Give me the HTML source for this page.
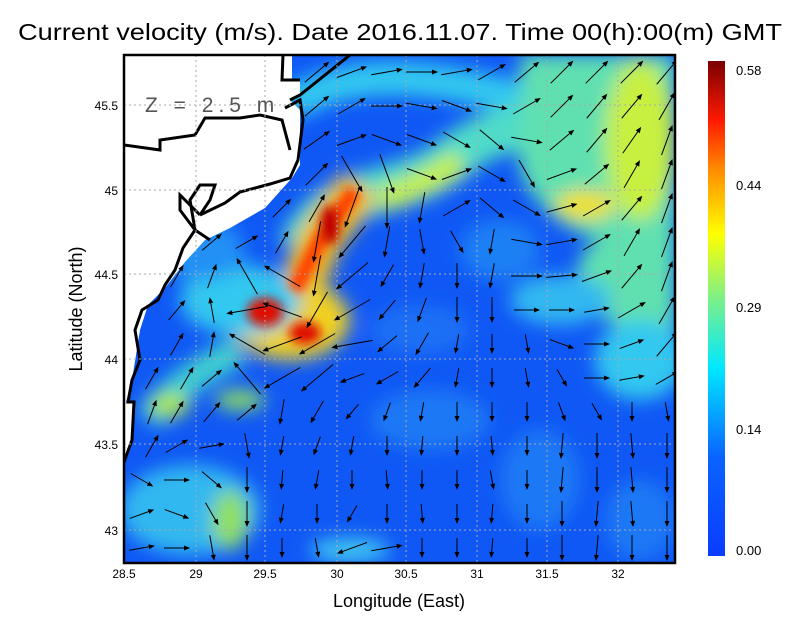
<!DOCTYPE html>
<html><head><meta charset="utf-8"><style>
html,body{margin:0;padding:0;background:#fff;}
svg{display:block;font-family:"Liberation Sans",sans-serif;}
</style></head><body>
<svg width="800" height="618" viewBox="0 0 800 618" xmlns="http://www.w3.org/2000/svg" xmlns:xlink="http://www.w3.org/1999/xlink">
<defs>
<clipPath id="pc"><rect x="124" y="55" width="551" height="508"/></clipPath>
<filter id="bl" x="-20%" y="-20%" width="140%" height="140%"><feGaussianBlur stdDeviation="9"/></filter>
<filter id="bl2" x="-20%" y="-20%" width="140%" height="140%"><feGaussianBlur stdDeviation="5"/></filter>
<linearGradient id="cb" x1="0" y1="1" x2="0" y2="0">
<stop offset="0" stop-color="#0a3cff"/>
<stop offset="0.2" stop-color="#0a64ff"/>
<stop offset="0.38" stop-color="#00e8ff"/>
<stop offset="0.52" stop-color="#7df088"/>
<stop offset="0.65" stop-color="#ffff00"/>
<stop offset="0.78" stop-color="#ff8c00"/>
<stop offset="0.88" stop-color="#ff1a00"/>
<stop offset="1" stop-color="#7a0000"/>
</linearGradient>
<g id="s"><line x1="-10" y1="0" x2="8" y2="0" stroke="#000" stroke-width="1"/><path d="M10,0 L4,-2.5 L4,2.5z"/></g>
<g id="m"><line x1="-13" y1="0" x2="11" y2="0" stroke="#000" stroke-width="1"/><path d="M13,0 L7,-2.5 L7,2.5z"/></g>
<g id="b"><line x1="-16" y1="0" x2="14" y2="0" stroke="#000" stroke-width="1"/><path d="M16,0 L10,-2.5 L10,2.5z"/></g>
<g id="c"><line x1="-21" y1="0" x2="19" y2="0" stroke="#000" stroke-width="1"/><path d="M21,0 L15,-2.5 L15,2.5z"/></g>
</defs>
<text x="400" y="40" text-anchor="middle" font-size="23" textLength="764" lengthAdjust="spacingAndGlyphs">Current velocity (m/s). Date 2016.11.07. Time 00(h):00(m) GMT</text>
<g clip-path="url(#pc)">
<rect x="124" y="55" width="551" height="508" fill="#1058f5"/>
<g filter="url(#bl)">
<path d="M290,105 C360,60 460,80 560,110" stroke="#30c8f0" stroke-width="34" fill="none"/>
<path d="M300,250 C330,180 400,200 450,160 S540,120 600,150" stroke="#50dcc8" stroke-width="46" fill="none"/>
<path d="M380,200 C410,190 440,175 460,160" stroke="#c8f040" stroke-width="24" fill="none"/>
<path d="M520,55 L675,55 L675,340 L620,330 C580,300 560,260 600,240 C560,230 530,200 520,170 Z" fill="#60e0b0"/>
<ellipse cx="640" cy="140" rx="35" ry="80" fill="#c8f040"/>
<ellipse cx="585" cy="205" rx="30" ry="15" fill="#f0e020"/>
<ellipse cx="640" cy="360" rx="45" ry="40" fill="#30c8f0"/>
<ellipse cx="560" cy="300" rx="50" ry="25" fill="#30b8f0"/>
<ellipse cx="500" cy="250" rx="40" ry="30" fill="#1a80f5"/>
<path d="M360,185 L320,240 L300,290" stroke="#f0c020" stroke-width="44" fill="none"/>
<ellipse cx="290" cy="320" rx="60" ry="40" fill="#f0d020"/>
<ellipse cx="240" cy="300" rx="60" ry="35" fill="#30c8f0"/>
<ellipse cx="200" cy="250" rx="45" ry="30" fill="#2090f5"/>
<path d="M150,420 C170,390 200,370 240,350" stroke="#40d0d0" stroke-width="30" fill="none"/>
<ellipse cx="170" cy="405" rx="20" ry="12" fill="#b0e840"/>
<ellipse cx="240" cy="400" rx="25" ry="10" fill="#90e060"/>
<ellipse cx="190" cy="510" rx="70" ry="45" fill="#30b8f0"/>
<ellipse cx="230" cy="520" rx="18" ry="30" fill="#90e060"/>
<ellipse cx="350" cy="550" rx="40" ry="12" fill="#40c8f0"/>
<ellipse cx="430" cy="420" rx="60" ry="30" fill="#1a78f5"/>
<ellipse cx="540" cy="480" rx="40" ry="50" fill="#1a78f5"/>
<ellipse cx="640" cy="520" rx="35" ry="40" fill="#1a78f5"/>
<ellipse cx="420" cy="330" rx="50" ry="25" fill="#1a70f5"/>
</g>
<g filter="url(#bl2)">
<path d="M355,190 L320,240 L295,290" stroke="#ff4000" stroke-width="16" fill="none"/>
<ellipse cx="265" cy="312" rx="18" ry="14" fill="#e01000"/>
<ellipse cx="305" cy="333" rx="16" ry="11" fill="#e01000"/>
<ellipse cx="330" cy="225" rx="10" ry="20" fill="#c00000"/>
</g>
<path d="M124,55 L292,55 L292,80 L300,80 L300,95 L290,100 L300,110 L300,165 L292,178 L265,208 L230,228 L205,240 L185,262 L165,288 L148,305 L140,330 L132,380 L126,402 L124,402 Z" fill="#fff"/>
<path d="M124,402 L134,402 L132,440 L124,462 Z" fill="#fff"/>
<path d="M350,55 L300,95 L290,100" stroke="#000" stroke-width="3" fill="none"/>
<path d="M283,55 L282,80 L300,80" stroke="#000" stroke-width="3" fill="none"/>
<path d="M285,108 L300,100 L303,120 L298,160 L290,178 L270,184 L240,192 L225,203 L200,215" stroke="#000" stroke-width="3" fill="none"/>
<path d="M124,145 L160,150 L160,140 L195,135 L205,118 L240,118 L260,115 L282,120 L290,150" stroke="#000" stroke-width="3" fill="none"/>
<path d="M200,215 L180,195 L180,210 L195,230 L183,248 L175,270 L165,285 L158,300 L142,310 L135,330 L140,360 L132,380 L128,402 L134,402 L132,440 L124,462" stroke="#000" stroke-width="3" fill="none"/>
<path d="M200,215 L210,200 L215,185 L200,185 L190,200 L195,230 L210,240" stroke="#000" stroke-width="3" fill="none"/>
<g stroke="#aaa" stroke-width="1" stroke-dasharray="2,3">
<line x1="196" y1="55" x2="196" y2="563"/><line x1="265" y1="55" x2="265" y2="563"/><line x1="337" y1="55" x2="337" y2="563"/><line x1="406" y1="55" x2="406" y2="563"/><line x1="477" y1="55" x2="477" y2="563"/><line x1="547" y1="55" x2="547" y2="563"/><line x1="618" y1="55" x2="618" y2="563"/>
<line x1="124" y1="105" x2="675" y2="105"/><line x1="124" y1="190" x2="675" y2="190"/><line x1="124" y1="274" x2="675" y2="274"/><line x1="124" y1="359" x2="675" y2="359"/><line x1="124" y1="444" x2="675" y2="444"/><line x1="124" y1="530" x2="675" y2="530"/>
</g>
<text x="145" y="112" font-size="21" fill="#555" letter-spacing="5">Z = 2.5 m</text>
<g>
<use href="#b" transform="translate(317,72)rotate(-40)"/><use href="#b" transform="translate(352,72)rotate(-20)"/><use href="#b" transform="translate(387,72)rotate(-10)"/><use href="#b" transform="translate(422,72)rotate(0)"/><use href="#b" transform="translate(457,72)rotate(-10)"/><use href="#b" transform="translate(492,72)rotate(-30)"/><use href="#b" transform="translate(527,72)rotate(-40)"/><use href="#b" transform="translate(562,72)rotate(-45)"/><use href="#b" transform="translate(597,72)rotate(-45)"/><use href="#b" transform="translate(632,72)rotate(-45)"/><use href="#b" transform="translate(667,72)rotate(-50)"/>
<use href="#b" transform="translate(317,106)rotate(-40)"/><use href="#b" transform="translate(352,106)rotate(-30)"/><use href="#b" transform="translate(387,106)rotate(0)"/><use href="#b" transform="translate(422,106)rotate(10)"/><use href="#b" transform="translate(457,106)rotate(20)"/><use href="#b" transform="translate(492,106)rotate(10)"/><use href="#b" transform="translate(527,106)rotate(-30)"/><use href="#b" transform="translate(562,106)rotate(-45)"/><use href="#b" transform="translate(597,106)rotate(-50)"/><use href="#b" transform="translate(632,106)rotate(-50)"/><use href="#b" transform="translate(667,106)rotate(-60)"/>
<use href="#b" transform="translate(317,140)rotate(-35)"/><use href="#b" transform="translate(352,140)rotate(-20)"/><use href="#b" transform="translate(387,140)rotate(20)"/><use href="#b" transform="translate(422,140)rotate(20)"/><use href="#b" transform="translate(457,140)rotate(30)"/><use href="#b" transform="translate(492,140)rotate(40)"/><use href="#b" transform="translate(527,140)rotate(10)"/><use href="#b" transform="translate(562,140)rotate(-40)"/><use href="#b" transform="translate(597,140)rotate(-50)"/><use href="#b" transform="translate(632,140)rotate(-55)"/><use href="#b" transform="translate(667,140)rotate(-70)"/>
<use href="#b" transform="translate(317,174)rotate(-45)"/><use href="#c" transform="translate(352,174)rotate(60)"/><use href="#c" transform="translate(387,174)rotate(70)"/><use href="#b" transform="translate(422,174)rotate(20)"/><use href="#b" transform="translate(457,174)rotate(-20)"/><use href="#b" transform="translate(492,174)rotate(30)"/><use href="#b" transform="translate(527,174)rotate(60)"/><use href="#b" transform="translate(562,174)rotate(-20)"/><use href="#b" transform="translate(597,174)rotate(-40)"/><use href="#b" transform="translate(632,174)rotate(-60)"/><use href="#b" transform="translate(667,174)rotate(-70)"/>
<use href="#m" transform="translate(282,208)rotate(-45)"/><use href="#b" transform="translate(317,208)rotate(-60)"/><use href="#c" transform="translate(352,208)rotate(110)"/><use href="#c" transform="translate(387,208)rotate(90)"/><use href="#b" transform="translate(422,208)rotate(100)"/><use href="#b" transform="translate(457,208)rotate(-30)"/><use href="#b" transform="translate(492,208)rotate(40)"/><use href="#b" transform="translate(527,208)rotate(30)"/><use href="#b" transform="translate(562,208)rotate(-15)"/><use href="#b" transform="translate(597,208)rotate(-30)"/><use href="#b" transform="translate(632,208)rotate(-50)"/><use href="#b" transform="translate(667,208)rotate(-70)"/>
<use href="#m" transform="translate(212,242)rotate(-40)"/><use href="#m" transform="translate(247,242)rotate(-30)"/><use href="#m" transform="translate(282,242)rotate(-60)"/><use href="#c" transform="translate(317,242)rotate(100)"/><use href="#c" transform="translate(352,242)rotate(130)"/><use href="#b" transform="translate(387,242)rotate(100)"/><use href="#m" transform="translate(422,242)rotate(80)"/><use href="#m" transform="translate(457,242)rotate(60)"/><use href="#m" transform="translate(492,242)rotate(100)"/><use href="#b" transform="translate(527,242)rotate(10)"/><use href="#b" transform="translate(562,242)rotate(-10)"/><use href="#b" transform="translate(597,242)rotate(-30)"/><use href="#b" transform="translate(632,242)rotate(-60)"/><use href="#b" transform="translate(667,242)rotate(-70)"/>
<use href="#m" transform="translate(177,276)rotate(-60)"/><use href="#m" transform="translate(212,276)rotate(-70)"/><use href="#c" transform="translate(247,276)rotate(-120)"/><use href="#c" transform="translate(282,276)rotate(-150)"/><use href="#c" transform="translate(317,276)rotate(100)"/><use href="#c" transform="translate(352,276)rotate(140)"/><use href="#m" transform="translate(387,276)rotate(120)"/><use href="#m" transform="translate(422,276)rotate(100)"/><use href="#m" transform="translate(457,276)rotate(90)"/><use href="#m" transform="translate(492,276)rotate(100)"/><use href="#b" transform="translate(527,276)rotate(0)"/><use href="#b" transform="translate(562,276)rotate(-5)"/><use href="#b" transform="translate(597,276)rotate(-20)"/><use href="#b" transform="translate(632,276)rotate(-50)"/><use href="#b" transform="translate(667,276)rotate(-70)"/>
<use href="#m" transform="translate(177,310)rotate(-50)"/><use href="#m" transform="translate(212,310)rotate(-100)"/><use href="#c" transform="translate(247,310)rotate(170)"/><use href="#c" transform="translate(282,310)rotate(-160)"/><use href="#c" transform="translate(317,310)rotate(120)"/><use href="#c" transform="translate(352,310)rotate(150)"/><use href="#m" transform="translate(387,310)rotate(130)"/><use href="#m" transform="translate(422,310)rotate(110)"/><use href="#m" transform="translate(457,310)rotate(90)"/><use href="#m" transform="translate(492,310)rotate(90)"/><use href="#m" transform="translate(527,310)rotate(0)"/><use href="#m" transform="translate(562,310)rotate(0)"/><use href="#m" transform="translate(597,310)rotate(-10)"/><use href="#b" transform="translate(632,310)rotate(-30)"/><use href="#b" transform="translate(667,310)rotate(-60)"/>
<use href="#m" transform="translate(177,344)rotate(-60)"/><use href="#m" transform="translate(212,344)rotate(-80)"/><use href="#c" transform="translate(247,344)rotate(-150)"/><use href="#c" transform="translate(282,344)rotate(160)"/><use href="#c" transform="translate(317,344)rotate(150)"/><use href="#c" transform="translate(352,344)rotate(170)"/><use href="#m" transform="translate(387,344)rotate(140)"/><use href="#m" transform="translate(422,344)rotate(120)"/><use href="#s" transform="translate(457,344)rotate(100)"/><use href="#s" transform="translate(492,344)rotate(90)"/><use href="#s" transform="translate(527,344)rotate(80)"/><use href="#m" transform="translate(562,344)rotate(20)"/><use href="#m" transform="translate(597,344)rotate(0)"/><use href="#m" transform="translate(632,344)rotate(-20)"/><use href="#b" transform="translate(667,344)rotate(-50)"/>
<use href="#m" transform="translate(152,378)rotate(-60)"/><use href="#m" transform="translate(187,378)rotate(-60)"/><use href="#m" transform="translate(212,378)rotate(-40)"/><use href="#c" transform="translate(247,378)rotate(-130)"/><use href="#c" transform="translate(282,378)rotate(150)"/><use href="#c" transform="translate(317,378)rotate(140)"/><use href="#m" transform="translate(352,378)rotate(160)"/><use href="#m" transform="translate(387,378)rotate(150)"/><use href="#m" transform="translate(422,378)rotate(130)"/><use href="#s" transform="translate(457,378)rotate(100)"/><use href="#s" transform="translate(492,378)rotate(90)"/><use href="#s" transform="translate(527,378)rotate(80)"/><use href="#s" transform="translate(562,378)rotate(60)"/><use href="#m" transform="translate(597,378)rotate(0)"/><use href="#m" transform="translate(632,378)rotate(-10)"/><use href="#m" transform="translate(667,378)rotate(-30)"/>
<use href="#m" transform="translate(152,412)rotate(-70)"/><use href="#m" transform="translate(177,412)rotate(-60)"/><use href="#m" transform="translate(212,412)rotate(-50)"/><use href="#m" transform="translate(247,412)rotate(-40)"/><use href="#m" transform="translate(282,412)rotate(100)"/><use href="#m" transform="translate(317,412)rotate(120)"/><use href="#s" transform="translate(352,412)rotate(130)"/><use href="#s" transform="translate(387,412)rotate(110)"/><use href="#s" transform="translate(422,412)rotate(100)"/><use href="#s" transform="translate(457,412)rotate(90)"/><use href="#s" transform="translate(492,412)rotate(90)"/><use href="#s" transform="translate(527,412)rotate(90)"/><use href="#s" transform="translate(562,412)rotate(70)"/><use href="#s" transform="translate(597,412)rotate(60)"/><use href="#s" transform="translate(632,412)rotate(90)"/><use href="#s" transform="translate(667,412)rotate(80)"/>
<use href="#m" transform="translate(152,446)rotate(-60)"/><use href="#m" transform="translate(177,446)rotate(-30)"/><use href="#m" transform="translate(212,446)rotate(-10)"/><use href="#m" transform="translate(247,446)rotate(80)"/><use href="#s" transform="translate(282,446)rotate(100)"/><use href="#s" transform="translate(317,446)rotate(110)"/><use href="#s" transform="translate(352,446)rotate(100)"/><use href="#s" transform="translate(387,446)rotate(90)"/><use href="#s" transform="translate(422,446)rotate(95)"/><use href="#s" transform="translate(457,446)rotate(90)"/><use href="#s" transform="translate(492,446)rotate(85)"/><use href="#s" transform="translate(527,446)rotate(90)"/><use href="#m" transform="translate(562,446)rotate(95)"/><use href="#m" transform="translate(597,446)rotate(90)"/><use href="#m" transform="translate(632,446)rotate(85)"/><use href="#m" transform="translate(667,446)rotate(90)"/>
<use href="#m" transform="translate(142,480)rotate(30)"/><use href="#m" transform="translate(177,480)rotate(0)"/><use href="#m" transform="translate(212,480)rotate(40)"/><use href="#m" transform="translate(247,480)rotate(90)"/><use href="#s" transform="translate(282,480)rotate(95)"/><use href="#s" transform="translate(317,480)rotate(100)"/><use href="#s" transform="translate(352,480)rotate(90)"/><use href="#s" transform="translate(387,480)rotate(85)"/><use href="#s" transform="translate(422,480)rotate(90)"/><use href="#s" transform="translate(457,480)rotate(90)"/><use href="#s" transform="translate(492,480)rotate(80)"/><use href="#s" transform="translate(527,480)rotate(90)"/><use href="#m" transform="translate(562,480)rotate(95)"/><use href="#m" transform="translate(597,480)rotate(90)"/><use href="#m" transform="translate(632,480)rotate(85)"/><use href="#m" transform="translate(667,480)rotate(90)"/>
<use href="#m" transform="translate(142,514)rotate(-20)"/><use href="#m" transform="translate(177,514)rotate(20)"/><use href="#m" transform="translate(212,514)rotate(60)"/><use href="#m" transform="translate(247,514)rotate(90)"/><use href="#s" transform="translate(282,514)rotate(100)"/><use href="#s" transform="translate(317,514)rotate(90)"/><use href="#s" transform="translate(352,514)rotate(120)"/><use href="#s" transform="translate(387,514)rotate(90)"/><use href="#s" transform="translate(422,514)rotate(85)"/><use href="#s" transform="translate(457,514)rotate(90)"/><use href="#s" transform="translate(492,514)rotate(95)"/><use href="#s" transform="translate(527,514)rotate(90)"/><use href="#m" transform="translate(562,514)rotate(90)"/><use href="#m" transform="translate(597,514)rotate(95)"/><use href="#m" transform="translate(632,514)rotate(85)"/><use href="#m" transform="translate(667,514)rotate(90)"/>
<use href="#m" transform="translate(142,548)rotate(-10)"/><use href="#m" transform="translate(177,548)rotate(0)"/><use href="#m" transform="translate(212,548)rotate(80)"/><use href="#m" transform="translate(247,548)rotate(90)"/><use href="#s" transform="translate(282,548)rotate(90)"/><use href="#s" transform="translate(317,548)rotate(80)"/><use href="#b" transform="translate(352,548)rotate(160)"/><use href="#b" transform="translate(387,548)rotate(-10)"/><use href="#s" transform="translate(422,548)rotate(90)"/><use href="#s" transform="translate(457,548)rotate(90)"/><use href="#s" transform="translate(492,548)rotate(95)"/><use href="#s" transform="translate(527,548)rotate(90)"/><use href="#m" transform="translate(562,548)rotate(90)"/><use href="#m" transform="translate(597,548)rotate(95)"/><use href="#m" transform="translate(632,548)rotate(90)"/><use href="#m" transform="translate(667,548)rotate(90)"/>
</g>
</g>
<rect x="124" y="55" width="551" height="508" fill="none" stroke="#000" stroke-width="2.5"/>
<g font-size="12" text-anchor="middle">
<text x="124" y="578">28.5</text><text x="196" y="578">29</text><text x="265" y="578">29.5</text><text x="337" y="578">30</text><text x="406" y="578">30.5</text><text x="477" y="578">31</text><text x="547" y="578">31.5</text><text x="618" y="578">32</text>
</g>
<g font-size="12" text-anchor="end">
<text x="118" y="110">45.5</text><text x="118" y="195">45</text><text x="118" y="279">44.5</text><text x="118" y="364">44</text><text x="118" y="449">43.5</text><text x="118" y="535">43</text>
</g>
<text x="399" y="607" font-size="18" text-anchor="middle">Longitude (East)</text>
<text transform="translate(82,309) rotate(-90)" font-size="18" text-anchor="middle">Latitude (North)</text>
<rect x="708" y="61" width="17" height="495" fill="url(#cb)"/>
<g font-size="13">
<text x="736" y="75">0.58</text><text x="736" y="190">0.44</text><text x="736" y="312">0.29</text><text x="736" y="434">0.14</text><text x="736" y="555">0.00</text>
</g>
</svg>
</body></html>
